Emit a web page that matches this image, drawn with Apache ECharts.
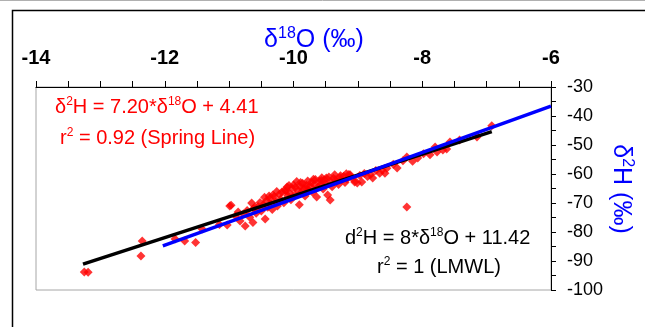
<!DOCTYPE html>
<html>
<head>
<meta charset="utf-8">
<script src="https://cdn.jsdelivr.net/npm/echarts@6/dist/echarts.min.js"></script>
<style>
  html, body { margin: 0; padding: 0; background: #fff; }
  #chart { width: 645px; height: 327px; }
</style>
</head>
<body>
<div id="chart"></div>
<script>
// sample points: d18O / d2H (permil)
const d18O = [
  -13.25, -13.19, -12.37, -12.35, -11.84, -11.69, -11.52, -11.42, -11.15, -11.03,
  -10.99, -10.97, -10.90, -10.86, -10.83, -10.78, -10.75, -10.72, -10.68, -10.65,
  -10.63, -10.62, -10.58, -10.55, -10.52, -10.50, -10.47, -10.44, -10.42, -10.40,
  -10.37, -10.35, -10.33, -10.30, -10.28, -10.25, -10.22, -10.20, -10.18, -10.15,
  -10.12, -10.10, -10.09, -10.06, -10.04, -10.02, -10.00, -9.98, -9.95, -9.93,
  -9.91, -9.90, -9.88, -9.86, -9.84, -9.82, -9.80, -9.78, -9.76, -9.74,
  -9.72, -9.70, -9.68, -9.66, -9.64, -9.62, -9.60, -9.58, -9.56, -9.54,
  -9.52, -9.50, -9.47, -9.45, -9.43, -9.42, -9.40, -9.38, -9.36, -9.33,
  -9.30, -9.28, -9.25, -9.22, -9.20, -9.17, -9.14, -9.12, -9.08, -9.05,
  -9.01, -8.97, -8.94, -8.90, -8.85, -8.80, -8.77, -8.72, -8.66, -8.62,
  -8.58, -8.55, -8.45, -8.39, -8.30, -8.24, -8.24, -8.15, -8.07, -7.98,
  -7.88, -7.80, -7.77, -7.68, -7.62, -7.57, -7.42, -7.15, -6.92,
  -10.45, -10.32, -10.26, -10.14, -10.07, -9.97, -9.89, -9.81, -9.69, -9.57,
  -9.49, -9.35, -9.27, -9.18, -10.60, -10.38
]
const d2H = [
  -93.8, -93.9, -88.3, -83.1, -82.4, -83.1, -83.6, -79.0, -77.4, -77.6,
  -71.0, -70.8, -74.5, -73.1, -76.2, -73.8, -77.9, -72.6, -74.9, -70.0,
  -76.7, -72.0, -73.5, -71.2, -69.8, -72.8, -70.6, -75.5, -69.2, -71.5,
  -68.5, -70.3, -72.2, -67.8, -69.6, -71.0, -67.0, -68.7, -66.2, -69.9,
  -65.8, -64.5, -67.5, -66.6, -68.9, -65.0, -63.8, -67.2, -62.6, -65.7,
  -70.6, -64.3, -66.4, -63.2, -65.0, -67.6, -63.9, -62.4, -65.6, -64.2,
  -62.9, -66.4, -63.6, -61.9, -67.9, -64.6, -62.5, -63.7, -61.3, -65.2,
  -62.1, -63.4, -67.2, -61.0, -69.0, -62.8, -64.4, -61.5, -60.3, -62.7,
  -63.6, -61.2, -62.0, -60.8, -62.9, -61.7, -60.2, -60.3, -61.6, -62.8,
  -63.1, -60.5, -62.8, -59.8, -60.9, -60.2, -61.4, -58.8, -59.7, -58.6,
  -59.7, -58.0, -56.6, -57.9, -55.4, -54.1, -71.4, -55.6, -54.5, -53.0,
  -53.4, -50.7, -52.4, -51.7, -51.4, -49.0, -48.3, -47.2, -43.4,
  -68.0, -67.2, -66.0, -65.6, -64.0, -64.6, -62.9, -64.8, -61.8, -62.2,
  -61.4, -62.0, -60.6, -59.9, -71.4, -67.6
]

// regression line end points
const springX = [-13.27, -6.92]
const springY = [-91.1, -45.4]
const lmwlX = [-12.03, -6.0]
const lmwlY = [-84.8, -36.58]

const xTicks = [-14, -12, -10, -8, -6]
const yTicks = [-100, -30]

const chart = echarts.init(document.getElementById('chart'))

const font = 'Arial, "Liberation Sans", sans-serif'

function pairs(xs, ys) {
  return xs.map((x, i) => [x, ys[i]])
}

// small helper for the superscripted labels
function label(x, y, text, color, size, extra) {
  return {
    type: 'text', x, y, silent: true,
    ...extra,
    style: {
      text, fill: color, font: size + 'px ' + font,
      align: extra && extra.center ? 'center' : 'left',
      verticalAlign: 'middle',
      rich: {
        s: { fill: color, fontSize: Math.round(size * 0.62), verticalAlign: 'top', padding: [0, 0, Math.round(size * 0.5), 0] },
        n: { fill: color, fontSize: size },
      },
    },
  }
}

chart.setOption({
  animation: false,
  grid: {
    left: 36, right: 94, top: 87, bottom: 37,
    show: true, borderColor: '#a6a6a6', borderWidth: 1, backgroundColor: '#fff',
  },
  xAxis: {
    type: 'value',
    position: 'top',
    min: xTicks[0], max: xTicks[xTicks.length - 1], interval: 2,
    axisLine: { onZero: false, lineStyle: { color: '#000', width: 1 } },
    axisTick: { show: true, length: 6, lineStyle: { color: '#000' } },
    minorTick: { show: true, splitNumber: 4, length: 6, lineStyle: { color: '#000' } },
    splitLine: { show: false },
    axisLabel: { margin: 19, fontSize: 20, fontWeight: 'bold', color: '#000', fontFamily: font },
  },
  yAxis: {
    type: 'value',
    position: 'right',
    min: yTicks[0], max: yTicks[1], interval: 10,
    axisLine: { onZero: false, lineStyle: { color: '#000', width: 1 } },
    axisTick: { show: true, length: 5, lineStyle: { color: '#000' } },
    minorTick: { show: true, splitNumber: 2, length: 5, lineStyle: { color: '#000' } },
    splitLine: { show: false },
    axisLabel: { margin: 16, fontSize: 18, color: '#000', fontFamily: font },
  },
  series: [
    {
      type: 'scatter',
      symbol: 'diamond',
      symbolSize: 9,
      itemStyle: { color: '#ff0000' },
      data: pairs(d18O, d2H),
      z: 2,
    },
    {
      type: 'line',
      data: pairs(springX, springY),
      symbol: 'none',
      lineStyle: { color: '#000', width: 3.5 },
      z: 3,
    },
    {
      type: 'line',
      data: pairs(lmwlX, lmwlY),
      symbol: 'none',
      lineStyle: { color: '#0000ff', width: 3.5 },
      z: 4,
    },
  ],
  graphic: [
    { type: 'line', shape: { x1: 0, y1: 0.5, x2: 645, y2: 0.5 }, style: { stroke: '#b0b0b0', lineWidth: 1 }, silent: true },
    { type: 'rect', shape: { x: 12.5, y: 10.5, width: 700, height: 400 }, style: { fill: null, stroke: '#000', lineWidth: 1.5 }, silent: true, z: -10 },
    label(314, 40, 'δ{s|18}O (‰)', '#0000ff', 25, { center: true }),
    label(621, 189, 'δ{s|2}H (‰)', '#0000ff', 25, { center: true, rotation: -Math.PI / 2 }),
    label(55, 107, 'δ{s|2}H = 7.20*δ{s|18}O + 4.41', '#ff0000', 20),
    label(60, 138, 'r{s|2} = 0.92 (Spring Line)', '#ff0000', 20),
    label(345, 238, 'd{s|2}H = 8*δ{s|18}O + 11.42', '#000', 20),
    label(377, 267, 'r{s|2} = 1 (LMWL)', '#000', 20),
  ],
})
</script>
</body>
</html>
